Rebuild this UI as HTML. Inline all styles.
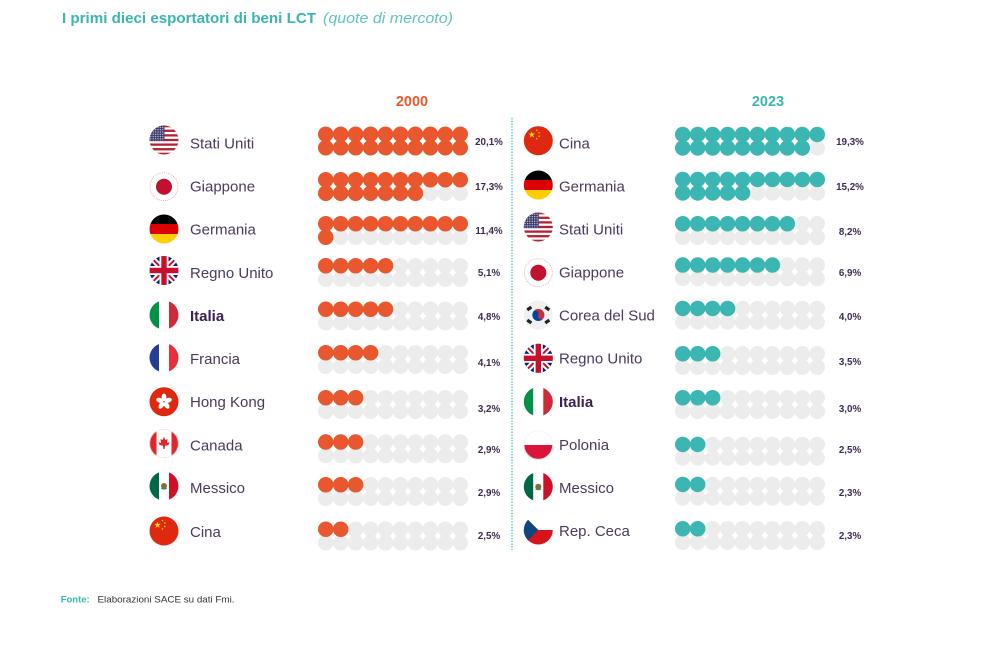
<!DOCTYPE html>
<html>
<head>
<meta charset="utf-8">
<style>
html,body{margin:0;padding:0;background:#fff;}
svg{display:block;}
text{font-family:"Liberation Sans",sans-serif;}
</style>
</head>
<body>
<svg width="994" height="663" viewBox="0 0 994 663" xmlns="http://www.w3.org/2000/svg">
<defs>
  <clipPath id="cc"><circle r="14.5"/></clipPath>
  <pattern id="stars" width="2.4" height="2.3" patternUnits="userSpaceOnUse">
    <rect width="2.4" height="2.3" fill="#3c3b6e"/>
    <circle cx="1.2" cy="1.15" r="0.55" fill="#fff"/>
  </pattern>
  <polygon id="star" points="0,-3.5 0.79,-1.08 3.33,-1.08 1.27,0.41 2.06,2.83 0,1.34 -2.06,2.83 -1.27,0.41 -3.33,-1.08 -0.79,-1.08"/>

  <g id="f-us" clip-path="url(#cc)">
    <rect x="-15" y="-15" width="30" height="30" fill="#fff"/>
    <g fill="#b22234">
      <rect x="-15" y="-15" width="30" height="2.31"/>
      <rect x="-15" y="-10.38" width="30" height="2.31"/>
      <rect x="-15" y="-5.77" width="30" height="2.31"/>
      <rect x="-15" y="-1.15" width="30" height="2.31"/>
      <rect x="-15" y="3.46" width="30" height="2.31"/>
      <rect x="-15" y="8.08" width="30" height="2.31"/>
      <rect x="-15" y="12.69" width="30" height="2.31"/>
    </g>
    <rect x="-15" y="-15" width="15.5" height="16.15" fill="url(#stars)"/>
  </g>

  <g id="f-jp">
    <circle r="14" fill="#fff" stroke="#e9a3ab" stroke-width="0.8" stroke-dasharray="1 1"/>
    <circle r="8" fill="#c2102f"/>
  </g>

  <g id="f-de" clip-path="url(#cc)">
    <rect x="-15" y="-15" width="30" height="10" fill="#000"/>
    <rect x="-15" y="-5" width="30" height="10" fill="#dd0000"/>
    <rect x="-15" y="5" width="30" height="10" fill="#ffce00"/>
  </g>

  <g id="f-uk" clip-path="url(#cc)">
    <rect x="-15" y="-15" width="30" height="30" fill="#012169"/>
    <line x1="-15" y1="-15" x2="15" y2="15" stroke="#fff" stroke-width="6"/>
    <line x1="-15" y1="15" x2="15" y2="-15" stroke="#fff" stroke-width="6"/>
    <line x1="-15" y1="-15" x2="15" y2="15" stroke="#c8102e" stroke-width="2"/>
    <line x1="-15" y1="15" x2="15" y2="-15" stroke="#c8102e" stroke-width="2"/>
    <rect x="-15" y="-4.5" width="30" height="9" fill="#fff"/>
    <rect x="-4.5" y="-15" width="9" height="30" fill="#fff"/>
    <rect x="-15" y="-2.7" width="30" height="5.4" fill="#c8102e"/>
    <rect x="-2.7" y="-15" width="5.4" height="30" fill="#c8102e"/>
  </g>

  <g id="f-it" clip-path="url(#cc)">
    <rect x="-15" y="-15" width="10" height="30" fill="#009246"/>
    <rect x="-5" y="-15" width="10" height="30" fill="#fff"/>
    <rect x="5" y="-15" width="10" height="30" fill="#ce2b37"/>
  </g>

  <g id="f-fr" clip-path="url(#cc)">
    <rect x="-15" y="-15" width="10" height="30" fill="#233f94"/>
    <rect x="-5" y="-15" width="10" height="30" fill="#fff"/>
    <rect x="5" y="-15" width="10" height="30" fill="#e8303d"/>
  </g>

  <g id="f-hk" clip-path="url(#cc)">
    <rect x="-15" y="-15" width="30" height="30" fill="#de2910"/>
    <g fill="#fff">
      <ellipse cx="0" cy="-4.2" rx="2.4" ry="4"/>
      <ellipse cx="0" cy="-4.2" rx="2.4" ry="4" transform="rotate(72)"/>
      <ellipse cx="0" cy="-4.2" rx="2.4" ry="4" transform="rotate(144)"/>
      <ellipse cx="0" cy="-4.2" rx="2.4" ry="4" transform="rotate(216)"/>
      <ellipse cx="0" cy="-4.2" rx="2.4" ry="4" transform="rotate(288)"/>
    </g>
    <circle r="0.8" fill="#de2910"/>
  </g>

  <g id="f-ca" clip-path="url(#cc)">
    <rect x="-15" y="-15" width="30" height="30" fill="#fff"/>
    <rect x="-15" y="-15" width="7.5" height="30" fill="#e0252b"/>
    <rect x="7.5" y="-15" width="7.5" height="30" fill="#e0252b"/>
    <polygon fill="#e0252b" points="0,-6.5 1.5,-3.5 3.5,-4.5 3,-0.5 5.5,-1.5 4.5,1.5 1,2.2 0.6,5.5 -0.6,5.5 -1,2.2 -4.5,1.5 -5.5,-1.5 -3,-0.5 -3.5,-4.5 -1.5,-3.5"/>
    <circle r="14.2" fill="none" stroke="#f2d6d6" stroke-width="0.6"/>
  </g>

  <g id="f-mx" clip-path="url(#cc)">
    <rect x="-15" y="-15" width="10" height="30" fill="#006847"/>
    <rect x="-5" y="-15" width="10" height="30" fill="#fff"/>
    <rect x="5" y="-15" width="10" height="30" fill="#ce1126"/>
    <circle cx="0" cy="0" r="3" fill="#8a6a3a"/>
    <ellipse cx="0" cy="2.5" rx="3" ry="1" fill="#4a8a4a"/>
  </g>

  <g id="f-cn" clip-path="url(#cc)">
    <rect x="-15" y="-15" width="30" height="30" fill="#de2910"/>
    <g fill="#ffde00">
      <use href="#star" transform="translate(-6.5,-6)"/>
      <use href="#star" transform="translate(-1.5,-10.5) scale(0.35)"/>
      <use href="#star" transform="translate(0.8,-8) scale(0.35)"/>
      <use href="#star" transform="translate(0.8,-4.5) scale(0.35)"/>
      <use href="#star" transform="translate(-1.5,-2) scale(0.35)"/>
    </g>
  </g>

  <g id="f-kr" clip-path="url(#cc)">
    <rect x="-15" y="-15" width="30" height="30" fill="#f1f1f1"/>
    <circle r="6" fill="#0047a0"/>
    <path d="M-6,0 A6,6 0 0 1 6,0 A3,3 0 0 1 0,0 A3,3 0 0 0 -6,0 Z" fill="#cd2e3a" transform="rotate(25)"/>
    <g fill="#222">
      <rect x="-2.5" y="-1.6" width="5" height="3.2" transform="translate(-9,-6.5) rotate(-35)"/>
      <rect x="-2.5" y="-1.6" width="5" height="3.2" transform="translate(9,-6.5) rotate(35)"/>
      <rect x="-2.5" y="-1.6" width="5" height="3.2" transform="translate(-9,6.5) rotate(35)"/>
      <rect x="-2.5" y="-1.6" width="5" height="3.2" transform="translate(9,6.5) rotate(-35)"/>
    </g>
  </g>

  <g id="f-pl" clip-path="url(#cc)">
    <rect x="-15" y="-15" width="30" height="15" fill="#fff"/>
    <rect x="-15" y="0" width="30" height="15" fill="#dc143c"/>
    <circle r="14.2" fill="none" stroke="#eee" stroke-width="0.7"/>
  </g>

  <g id="f-cz" clip-path="url(#cc)">
    <rect x="-15" y="-15" width="30" height="15" fill="#fff"/>
    <rect x="-15" y="0" width="30" height="15" fill="#d7141a"/>
    <polygon points="-15,-15 0,0 -15,15" fill="#11457e"/>
  </g>
</defs>

<!-- Title -->
<text x="62" y="23" font-size="15" font-weight="bold" fill="#3bb5b0" textLength="254" lengthAdjust="spacingAndGlyphs">I primi dieci esportatori di beni LCT</text>
<text x="323" y="23" font-size="15" font-style="italic" fill="#62c4bf" textLength="130" lengthAdjust="spacingAndGlyphs">(quote di mercoto)</text>

<!-- Headers -->
<text x="412" y="106" font-size="14.5" font-weight="bold" fill="#e8582c" text-anchor="middle">2000</text>
<text x="768" y="106" font-size="14.5" font-weight="bold" fill="#3bb5b0" text-anchor="middle">2023</text>

<!-- Divider -->
<line x1="512" y1="118" x2="512" y2="550" stroke="#5fc5c0" stroke-width="1.4" stroke-dasharray="1.4 1.4"/>

<!-- Left dots gray -->
<g stroke="#ececec" stroke-width="15.5" stroke-linecap="round" stroke-dasharray="0 14.944" fill="none">
  <line x1="325.75" x2="460.75" y1="134.25" y2="134.25"/><line x1="325.75" x2="460.75" y1="147.75" y2="147.75"/>
  <line x1="325.75" x2="460.75" y1="179.75" y2="179.75"/><line x1="325.75" x2="460.75" y1="193.25" y2="193.25"/>
  <line x1="325.75" x2="460.75" y1="223.75" y2="223.75"/><line x1="325.75" x2="460.75" y1="237.25" y2="237.25"/>
  <line x1="325.75" x2="460.75" y1="265.75" y2="265.75"/><line x1="325.75" x2="460.75" y1="279.25" y2="279.25"/>
  <line x1="325.75" x2="460.75" y1="309.25" y2="309.25"/><line x1="325.75" x2="460.75" y1="322.75" y2="322.75"/>
  <line x1="325.75" x2="460.75" y1="352.75" y2="352.75"/><line x1="325.75" x2="460.75" y1="366.25" y2="366.25"/>
  <line x1="325.75" x2="460.75" y1="397.75" y2="397.75"/><line x1="325.75" x2="460.75" y1="411.25" y2="411.25"/>
  <line x1="325.75" x2="460.75" y1="442.05" y2="442.05"/><line x1="325.75" x2="460.75" y1="455.55" y2="455.55"/>
  <line x1="325.75" x2="460.75" y1="484.75" y2="484.75"/><line x1="325.75" x2="460.75" y1="498.25" y2="498.25"/>
  <line x1="325.75" x2="460.75" y1="529.25" y2="529.25"/><line x1="325.75" x2="460.75" y1="542.75" y2="542.75"/>
</g>
<!-- Left dots orange -->
<g stroke="#e8572d" stroke-width="15.5" stroke-linecap="round" stroke-dasharray="0 14.944" fill="none">
  <line x1="325.75" x2="460.75" y1="134.25" y2="134.25"/><line x1="325.75" x2="460.75" y1="147.75" y2="147.75"/>
  <line x1="325.75" x2="460.75" y1="179.75" y2="179.75"/><line x1="325.75" x2="415.91" y1="193.25" y2="193.25"/>
  <line x1="325.75" x2="460.75" y1="223.75" y2="223.75"/><line x1="325.75" x2="326.25" y1="237.25" y2="237.25"/>
  <line x1="325.75" x2="386.03" y1="265.75" y2="265.75"/>
  <line x1="325.75" x2="386.03" y1="309.25" y2="309.25"/>
  <line x1="325.75" x2="371.08" y1="352.75" y2="352.75"/>
  <line x1="325.75" x2="356.14" y1="397.75" y2="397.75"/>
  <line x1="325.75" x2="356.14" y1="442.05" y2="442.05"/>
  <line x1="325.75" x2="356.14" y1="484.75" y2="484.75"/>
  <line x1="325.75" x2="341.19" y1="529.25" y2="529.25"/>
</g>

<!-- Right dots gray -->
<g stroke="#ececec" stroke-width="15.5" stroke-linecap="round" stroke-dasharray="0 14.944" fill="none">
  <line x1="682.75" x2="817.75" y1="134.45" y2="134.45"/><line x1="682.75" x2="817.75" y1="147.95" y2="147.95"/>
  <line x1="682.75" x2="817.75" y1="179.45" y2="179.45"/><line x1="682.75" x2="817.75" y1="192.95" y2="192.95"/>
  <line x1="682.75" x2="817.75" y1="223.75" y2="223.75"/><line x1="682.75" x2="817.75" y1="237.25" y2="237.25"/>
  <line x1="682.75" x2="817.75" y1="265.05" y2="265.05"/><line x1="682.75" x2="817.75" y1="278.55" y2="278.55"/>
  <line x1="682.75" x2="817.75" y1="308.45" y2="308.45"/><line x1="682.75" x2="817.75" y1="321.95" y2="321.95"/>
  <line x1="682.75" x2="817.75" y1="353.75" y2="353.75"/><line x1="682.75" x2="817.75" y1="367.25" y2="367.25"/>
  <line x1="682.75" x2="817.75" y1="397.75" y2="397.75"/><line x1="682.75" x2="817.75" y1="411.25" y2="411.25"/>
  <line x1="682.75" x2="817.75" y1="444.45" y2="444.45"/><line x1="682.75" x2="817.75" y1="457.95" y2="457.95"/>
  <line x1="682.75" x2="817.75" y1="484.45" y2="484.45"/><line x1="682.75" x2="817.75" y1="497.95" y2="497.95"/>
  <line x1="682.75" x2="817.75" y1="528.75" y2="528.75"/><line x1="682.75" x2="817.75" y1="542.25" y2="542.25"/>
</g>
<!-- Right dots teal -->
<g stroke="#3bb6b2" stroke-width="15.5" stroke-linecap="round" stroke-dasharray="0 14.944" fill="none">
  <line x1="682.75" x2="817.75" y1="134.45" y2="134.45"/><line x1="682.75" x2="802.8" y1="147.95" y2="147.95"/>
  <line x1="682.75" x2="817.75" y1="179.45" y2="179.45"/><line x1="682.75" x2="743.03" y1="192.95" y2="192.95"/>
  <line x1="682.75" x2="787.86" y1="223.75" y2="223.75"/>
  <line x1="682.75" x2="772.91" y1="265.05" y2="265.05"/>
  <line x1="682.75" x2="728.08" y1="308.45" y2="308.45"/>
  <line x1="682.75" x2="713.14" y1="353.75" y2="353.75"/>
  <line x1="682.75" x2="713.14" y1="397.75" y2="397.75"/>
  <line x1="682.75" x2="698.19" y1="444.45" y2="444.45"/>
  <line x1="682.75" x2="698.19" y1="484.45" y2="484.45"/>
  <line x1="682.75" x2="698.19" y1="528.75" y2="528.75"/>
</g>

<!-- Left flags -->
<use href="#f-us" x="164" y="140"/>
<use href="#f-jp" x="164" y="186.7"/>
<use href="#f-de" x="164" y="229"/>
<use href="#f-uk" x="164" y="270.5"/>
<use href="#f-it" x="164" y="315"/>
<use href="#f-fr" x="164" y="357.7"/>
<use href="#f-hk" x="164" y="401.7"/>
<use href="#f-ca" x="164" y="443.5"/>
<use href="#f-mx" x="164" y="486"/>
<use href="#f-cn" x="164" y="531"/>

<!-- Right flags -->
<use href="#f-cn" x="538.3" y="140.7"/>
<use href="#f-de" x="538.3" y="185"/>
<use href="#f-us" x="538.3" y="227"/>
<use href="#f-jp" x="538.3" y="272.7"/>
<use href="#f-kr" x="538.3" y="315"/>
<use href="#f-uk" x="538.3" y="358.3"/>
<use href="#f-it" x="538.3" y="401.7"/>
<use href="#f-pl" x="538.3" y="445"/>
<use href="#f-mx" x="538.3" y="486.7"/>
<use href="#f-cz" x="538.3" y="530"/>

<!-- Left labels -->
<g font-size="15" fill="#4a3a5c">
  <text x="190" y="148.3">Stati Uniti</text>
  <text x="190" y="191.7">Giappone</text>
  <text x="190" y="234.5">Germania</text>
  <text x="190" y="277.8">Regno Unito</text>
  <text x="190" y="321" font-weight="bold" fill="#3a2350">Italia</text>
  <text x="190" y="364">Francia</text>
  <text x="190" y="407.2">Hong Kong</text>
  <text x="190" y="450.4">Canada</text>
  <text x="190" y="493.2">Messico</text>
  <text x="190" y="537">Cina</text>
</g>
<!-- Right labels -->
<g font-size="15" fill="#4a3a5c">
  <text x="559" y="148.3">Cina</text>
  <text x="559" y="191.3">Germania</text>
  <text x="559" y="234.3">Stati Uniti</text>
  <text x="559" y="277.5">Giappone</text>
  <text x="559" y="320.7">Corea del Sud</text>
  <text x="559" y="363.5">Regno Unito</text>
  <text x="559" y="406.8" font-weight="bold" fill="#3a2350">Italia</text>
  <text x="559" y="450">Polonia</text>
  <text x="559" y="492.8">Messico</text>
  <text x="559" y="535.8">Rep. Ceca</text>
</g>

<!-- Left percentages -->
<g font-size="9.8" font-weight="bold" fill="#3d2c52" text-anchor="middle">
  <text x="489" y="145.2">20,1%</text>
  <text x="489" y="190.2">17,3%</text>
  <text x="489" y="234.2">11,4%</text>
  <text x="489" y="276.2">5,1%</text>
  <text x="489" y="320.2">4,8%</text>
  <text x="489" y="365.8">4,1%</text>
  <text x="489" y="411.8">3,2%</text>
  <text x="489" y="452.8">2,9%</text>
  <text x="489" y="495.8">2,9%</text>
  <text x="489" y="539.2">2,5%</text>
</g>
<!-- Right percentages -->
<g font-size="9.8" font-weight="bold" fill="#3d2c52" text-anchor="middle">
  <text x="850" y="145.2">19,3%</text>
  <text x="850" y="190.2">15,2%</text>
  <text x="850" y="235.2">8,2%</text>
  <text x="850" y="276.2">6,9%</text>
  <text x="850" y="320.2">4,0%</text>
  <text x="850" y="365.2">3,5%</text>
  <text x="850" y="411.8">3,0%</text>
  <text x="850" y="452.8">2,5%</text>
  <text x="850" y="495.8">2,3%</text>
  <text x="850" y="539.2">2,3%</text>
</g>

<!-- Footer -->
<text x="60.7" y="602.5" font-size="9.5" font-weight="bold" fill="#3bb5b0">Fonte:</text>
<text x="97.5" y="602.5" font-size="9" fill="#333" textLength="137" lengthAdjust="spacingAndGlyphs">Elaborazioni SACE su dati Fmi.</text>
</svg>
</body>
</html>
